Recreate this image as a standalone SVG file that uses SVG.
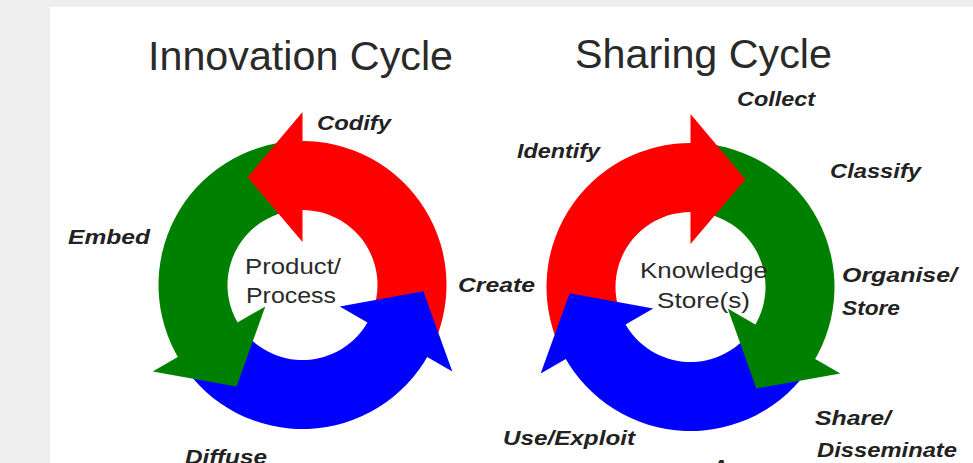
<svg xmlns="http://www.w3.org/2000/svg" width="973" height="463" viewBox="0 0 973 463">
<style>
.title{font-family:"Liberation Sans",Arial,sans-serif;font-size:41px;fill:#2a2a2a}
.lbl{font-family:"Liberation Sans",Arial,sans-serif;font-size:21px;font-weight:bold;font-style:italic;fill:#222}
.ctr{font-family:"Liberation Sans",Arial,sans-serif;font-size:22px;fill:#2a2a2a}
.red{fill:#ff0000}
.green{fill:#008000}
.blue{fill:#0000ff}
</style>
<rect x="0" y="0" width="973" height="463" fill="#eeeeee"/>
<rect x="50" y="7" width="923" height="456" fill="#ffffff"/>

<g id="innovation-cycle">
  <g id="inn-bands">
    <path id="inn-red-band" class="red" d="M429.64,352.6 A144,144 0 0 0 298.73,141.05 L300.54,210.03 A75,75 0 0 1 368.72,320.21 Z"/>
    <path id="inn-green-band" class="green" d="M294.96,141.2 A144,144 0 0 0 179.72,360.24 L238.55,324.19 A75,75 0 0 1 298.57,210.1 Z"/>
    <path id="inn-blue-band" class="blue" d="M181.73,363.43 A144,144 0 0 0 429.05,353.71 L368.41,320.79 A75,75 0 0 1 239.6,325.85 Z"/>
  </g>
  <g id="inn-heads">
    <path id="inn-red-head" class="red" d="M302.5,112 L247.57,177.19 L302.5,242 Z"/>
    <path id="inn-green-head" class="green" d="M152.68,371.5 L236.6,386.48 L265.26,306.5 Z"/>
    <path id="inn-blue-head" class="blue" d="M452.32,371.5 L423.33,291.33 L339.74,306.5 Z"/>
  </g>
</g>

<g id="sharing-cycle" transform="translate(993,2) scale(-1,1)">
  <g id="sh-bands">
    <path id="sh-red-band" class="red" d="M429.64,352.6 A144,144 0 0 0 298.73,141.05 L300.54,210.03 A75,75 0 0 1 368.72,320.21 Z"/>
    <path id="sh-green-band" class="green" d="M294.96,141.2 A144,144 0 0 0 179.72,360.24 L238.55,324.19 A75,75 0 0 1 298.57,210.1 Z"/>
    <path id="sh-blue-band" class="blue" d="M181.73,363.43 A144,144 0 0 0 429.05,353.71 L368.41,320.79 A75,75 0 0 1 239.6,325.85 Z"/>
  </g>
  <g id="sh-heads">
    <path id="sh-red-head" class="red" d="M302.5,112 L247.57,177.19 L302.5,242 Z"/>
    <path id="sh-green-head" class="green" d="M152.68,371.5 L236.6,386.48 L265.26,306.5 Z"/>
    <path id="sh-blue-head" class="blue" d="M452.32,371.5 L423.33,291.33 L339.74,306.5 Z"/>
  </g>
</g>

<g id="labels-innovation">
  <text class="title" x="148" y="70" textLength="305" lengthAdjust="spacingAndGlyphs">Innovation Cycle</text>
  <text class="lbl" x="317" y="130" textLength="74" lengthAdjust="spacingAndGlyphs">Codify</text>
  <text class="lbl" x="68" y="244" textLength="82" lengthAdjust="spacingAndGlyphs">Embed</text>
  <text class="ctr" x="245" y="274" textLength="96" lengthAdjust="spacingAndGlyphs">Product/</text>
  <text class="ctr" x="246" y="303" textLength="90" lengthAdjust="spacingAndGlyphs">Process</text>
  <text class="lbl" x="458" y="292" textLength="77" lengthAdjust="spacingAndGlyphs">Create</text>
  <text class="lbl" x="185" y="464" textLength="82" lengthAdjust="spacingAndGlyphs">Diffuse</text>
</g>

<g id="labels-sharing">
  <text class="title" x="575" y="68" textLength="257" lengthAdjust="spacingAndGlyphs">Sharing Cycle</text>
  <text class="lbl" x="737" y="106" textLength="78" lengthAdjust="spacingAndGlyphs">Collect</text>
  <text class="lbl" x="517" y="158" textLength="83" lengthAdjust="spacingAndGlyphs">Identify</text>
  <text class="lbl" x="830" y="178" textLength="91" lengthAdjust="spacingAndGlyphs">Classify</text>
  <text class="ctr" x="640" y="278" textLength="128" lengthAdjust="spacingAndGlyphs">Knowledge</text>
  <text class="ctr" x="657" y="308" textLength="93" lengthAdjust="spacingAndGlyphs">Store(s)</text>
  <text class="lbl" x="842" y="282" textLength="115" lengthAdjust="spacingAndGlyphs">Organise/</text>
  <text class="lbl" x="842" y="315" textLength="58" lengthAdjust="spacingAndGlyphs">Store</text>
  <text class="lbl" x="815" y="425" textLength="76" lengthAdjust="spacingAndGlyphs">Share/</text>
  <text class="lbl" x="817" y="457" textLength="140" lengthAdjust="spacingAndGlyphs">Disseminate</text>
  <text class="lbl" x="503" y="445" textLength="132" lengthAdjust="spacingAndGlyphs">Use/Exploit</text>
  <text class="lbl" x="712" y="474" textLength="75" lengthAdjust="spacingAndGlyphs">Access</text>
</g>
</svg>
